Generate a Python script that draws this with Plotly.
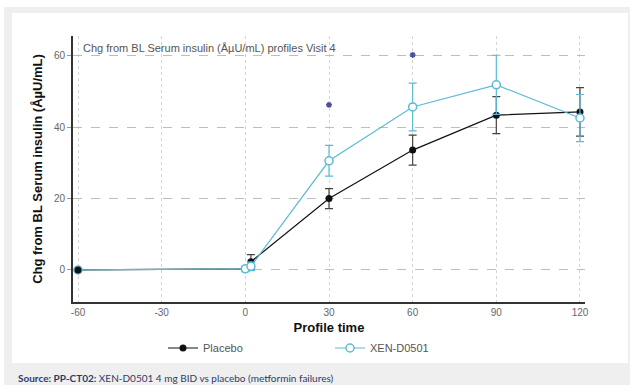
import plotly.graph_objects as go

times = [-60, 0, 2, 30, 60, 90, 120]
placebo = [0.0, 0.3, 2.3, 20.0, 33.6, 43.4, 44.3]
placebo_err = [0.0, 0.6, 2.0, 2.8, 4.2, 5.2, 6.8]
xen = [0.0, 0.3, 1.0, 30.6, 45.7, 51.9, 42.6]
xen_err = [0.0, 0.8, 1.2, 4.3, 6.7, 8.3, 6.6]
sig_times = [30, 60]
sig_y = [46.3, 60.3]

x_ticks = [-60, -30, 0, 30, 60, 90, 120]
y_ticks = [0, 20, 40, 60]

CYAN = "#5bbbd6"
BLACK = "#111111"
STAR = "#4b4f9c"

fig = go.Figure()
fig.add_trace(go.Scatter(
    x=times, y=placebo, name="Placebo", mode="lines+markers",
    line=dict(color=BLACK, width=1.2),
    marker=dict(color=BLACK, size=7, symbol="circle"),
    error_y=dict(type="data", array=placebo_err, color="#444444", thickness=1.2, width=4),
))
fig.add_trace(go.Scatter(
    x=times, y=xen, name="XEN-D0501", mode="lines+markers",
    line=dict(color=CYAN, width=1.2),
    marker=dict(color="white", size=8, symbol="circle", line=dict(color=CYAN, width=1.5)),
    error_y=dict(type="data", array=xen_err, color=CYAN, thickness=1.2, width=4),
))
# placebo baseline dot drawn on top, as in the reference
fig.add_trace(go.Scatter(
    x=times[:1], y=placebo[:1], mode="markers",
    marker=dict(color=BLACK, size=7, symbol="circle"),
    showlegend=False, hoverinfo="skip",
))
fig.add_trace(go.Scatter(
    x=sig_times, y=sig_y, mode="markers",
    marker=dict(symbol="asterisk-open", size=5, color=STAR, line=dict(color=STAR, width=1.5)),
    showlegend=False, hoverinfo="skip",
))

L, R, T, B = 73, 48, 36, 90
W, H = 633, 392
pw, ph = W - L - R, H - T - B

def px(x):
    return (x - L) / pw

def py(y):
    return (H - B - y) / ph

shapes = [
    dict(type="rect", xref="paper", yref="paper", x0=px(4), x1=px(630), y0=py(385), y1=py(7),
         fillcolor="#efefef", line=dict(width=0), layer="below"),
    dict(type="rect", xref="paper", yref="paper", x0=px(12), x1=px(628), y0=py(363), y1=py(13),
         fillcolor="white", line=dict(width=0), layer="below"),
]

fig.update_layout(
    width=W, height=H,
    margin=dict(l=L, r=R, t=T, b=B),
    paper_bgcolor="white", plot_bgcolor="rgba(0,0,0,0)",
    font=dict(family="Liberation Sans, Arial", color="#555555", size=10),
    shapes=shapes,
    showlegend=True,
    legend=dict(orientation="h", x=px(163), xanchor="left", y=py(348), yanchor="middle",
                font=dict(size=11, color="#555555"), bgcolor="rgba(0,0,0,0)",
                entrywidth=122, entrywidthmode="pixels", tracegroupgap=0),
    xaxis=dict(range=[-61.8, 121.8], tickvals=x_ticks, ticktext=[str(v) for v in x_ticks],
               showline=True, linecolor="#333333", linewidth=2, ticks="", zeroline=False,
               showgrid=True, gridcolor="#d4d4d4", griddash="dot", gridwidth=1,
               tickfont=dict(size=10, color="#666666"),
               title=dict(text="<b>Profile time</b>", font=dict(size=13, color="#111111"), standoff=6)),
    yaxis=dict(range=[-9, 65.6], tickvals=y_ticks, ticktext=[str(v) for v in y_ticks],
               showline=True, linecolor="#333333", linewidth=2, ticks="outside", ticklen=4,
               tickcolor="#999999", zeroline=False,
               showgrid=True, gridcolor="#bdbdbd", griddash="dash", gridwidth=1,
               tickfont=dict(size=10, color="#666666"),
               title=dict(text="<b>Chg from BL Serum insulin (ÅµU/mL)</b>",
                          font=dict(size=13, color="#111111"), standoff=8)),
    annotations=[
        dict(text="Chg from BL Serum insulin (ÅµU/mL) profiles Visit 4", xref="paper", yref="paper",
             x=px(81), y=py(48), xanchor="left", yanchor="middle", showarrow=False,
             font=dict(size=11, color="#555555")),
        dict(text="<b>Source: PP-CT02:</b> XEN-D0501 4 mg BID vs placebo (metformin failures)",
             xref="paper", yref="paper", x=px(16), y=py(378), xanchor="left", yanchor="middle",
             showarrow=False, font=dict(size=10, color="#2d3a6b", family="Lato, Open Sans")),
    ],
)

fig.write_html("out.html")
